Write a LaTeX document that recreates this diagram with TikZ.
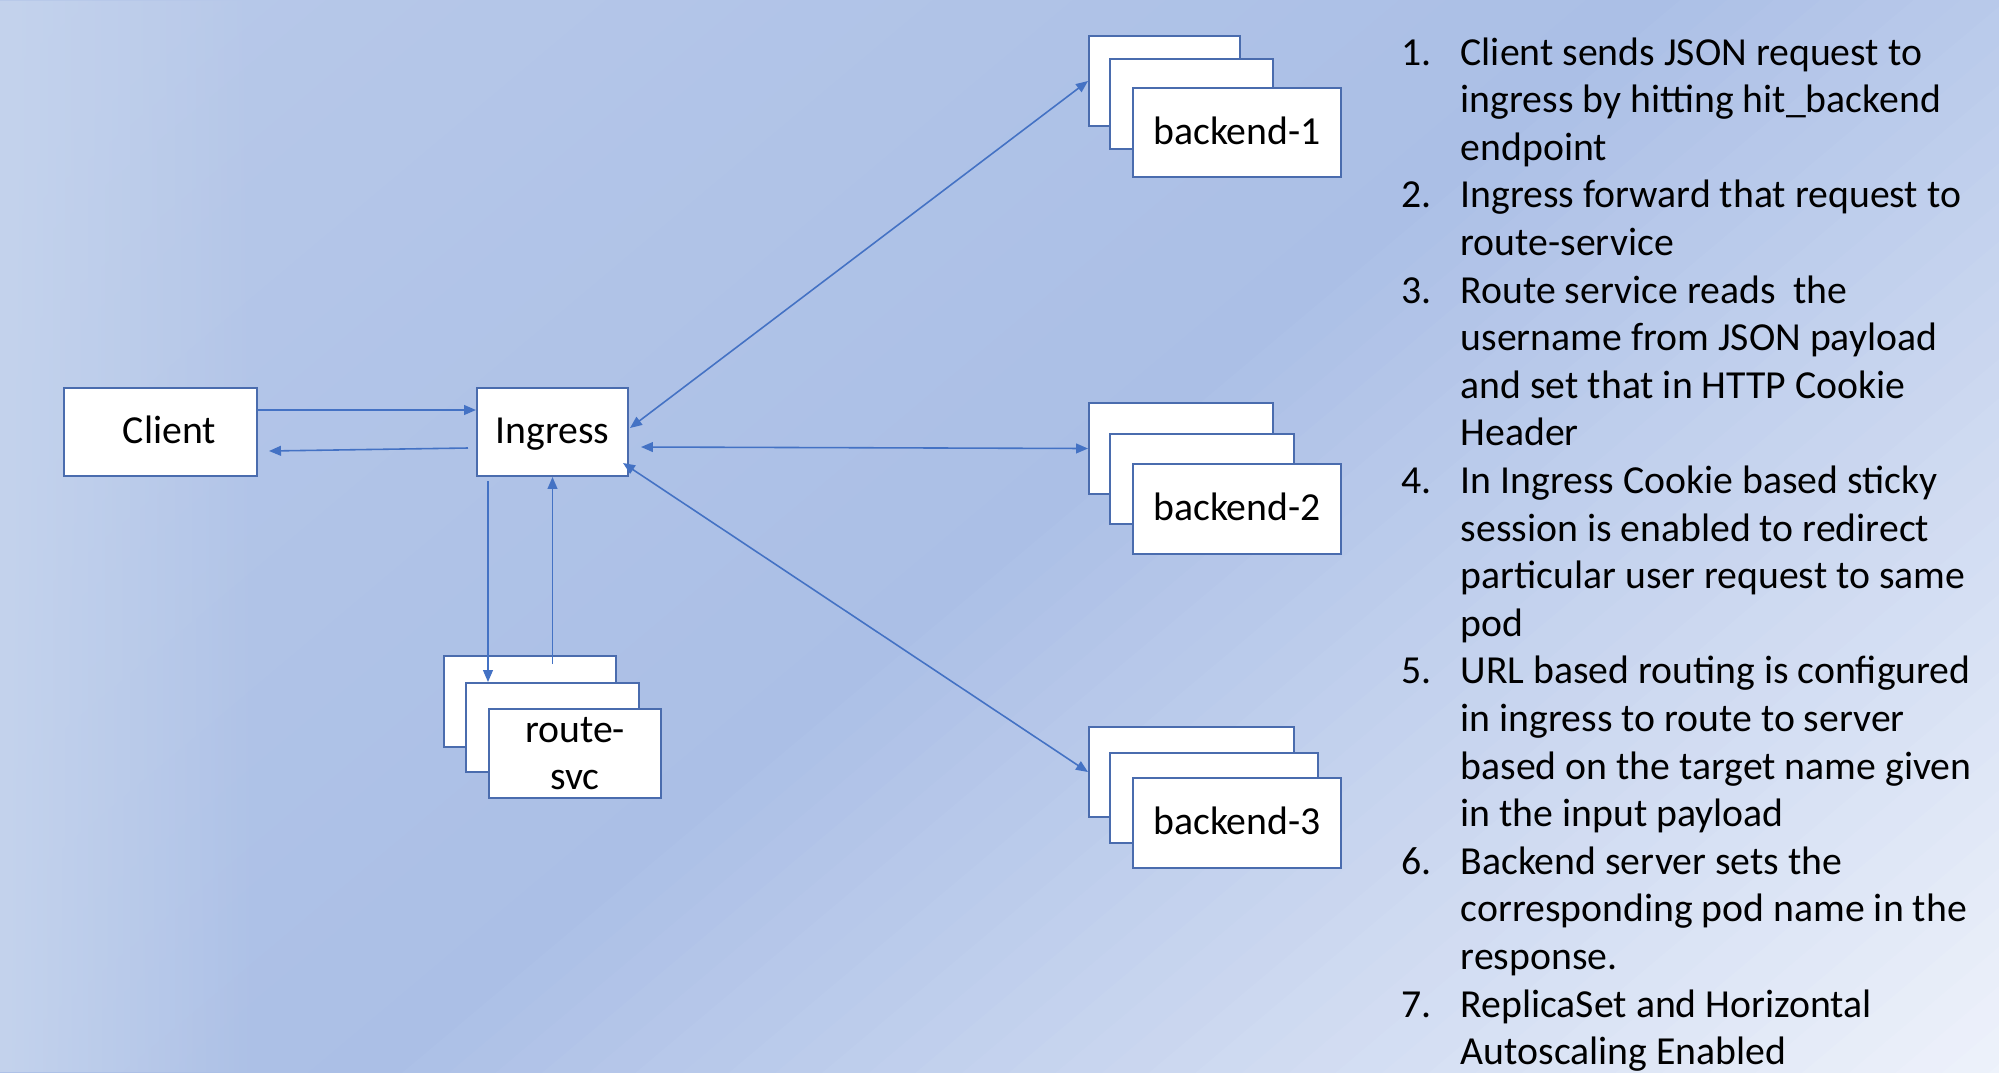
\documentclass[tikz,border=0pt]{standalone}
\usepackage{fontspec}
\setmainfont{Carlito}
\usetikzlibrary{arrows.meta, calc, fadings}

\definecolor{bgA}{HTML}{B8C9E9}
\definecolor{bgB}{HTML}{ABBFE6}
\definecolor{bgC}{HTML}{EFF3FB}
\definecolor{bgedge}{HTML}{C4D3ED}
\definecolor{boxline}{HTML}{4A6CAE}
\definecolor{arrowblue}{HTML}{4472C4}

\tikzfading[name=edgefade, left color=transparent!0, right color=transparent!100]

\begin{document}
\begin{tikzpicture}[
    x=0.01cm, y=-0.01cm,
    every node/.style={font=\fontsize{11.3pt}{13.5pt}\selectfont},
    box/.style={draw=boxline, line width=0.55pt, fill=white, inner sep=0pt, align=center},
    oneline/.style={text height=8.8pt, text depth=2pt},
    flow/.style={-{Triangle[length=3.4pt, width=2.8pt]}, draw=arrowblue, line width=0.45pt},
    both/.style={{Triangle[length=3.4pt, width=2.8pt]}-{Triangle[length=3.4pt, width=2.8pt]}, draw=arrowblue, line width=0.45pt},
    listline/.style={anchor=base west, inner sep=0pt}
]
\useasboundingbox (0,0) rectangle (1999,1072);

% Background
\begin{scope}
\clip (0,0) rectangle (1999,1072);
\foreach \s in {0,30,...,1020} {
    \pgfmathsetmacro\f{\s/10.3}
    \fill[bgB!\f!bgA] ({\s*0.643-2500*0.766},{\s*0.766+2500*0.643}) -- ({\s*0.643+2500*0.766},{\s*0.766-2500*0.643})
        -- ({(\s+31)*0.643+2500*0.766},{(\s+31)*0.766-2500*0.643}) -- ({(\s+31)*0.643-2500*0.766},{(\s+31)*0.766+2500*0.643}) -- cycle;
}
\foreach \s in {1050,1080,...,2190} {
    \pgfmathsetmacro\f{min(100,(\s-1050)/10.6)}
    \fill[bgC!\f!bgB] ({\s*0.643-2500*0.766},{\s*0.766+2500*0.643}) -- ({\s*0.643+2500*0.766},{\s*0.766-2500*0.643})
        -- ({(\s+31)*0.643+2500*0.766},{(\s+31)*0.766-2500*0.643}) -- ({(\s+31)*0.643-2500*0.766},{(\s+31)*0.766+2500*0.643}) -- cycle;
}
\fill[bgedge, path fading=edgefade] (0,0) rectangle (260,1072);
\end{scope}

% Nodes
\node[box, oneline, minimum width=1.93cm, minimum height=0.88cm] (client) at (160.5,432) {\hspace*{0.18cm}Client};
\node[box, oneline, minimum width=1.51cm, minimum height=0.88cm] (ingress) at (552.5,432) {Ingress};

\node[box, minimum width=1.72cm, minimum height=0.91cm] (rsvcA) at (530,701.5) {};
\node[box, minimum width=1.73cm, minimum height=0.89cm] (rsvcB) at (552.5,727.5) {};
\node[box, minimum width=1.72cm, minimum height=0.89cm] (rsvc) at (575,753.5) {route-\\svc};

\node[box, minimum width=1.51cm, minimum height=0.90cm] (beA1) at (1164.5,81) {};
\node[box, minimum width=1.63cm, minimum height=0.90cm] (beB1) at (1191.5,104) {};
\node[box, oneline, minimum width=2.08cm, minimum height=0.89cm] (be1) at (1237,132.5) {backend-1};

\node[box, minimum width=1.84cm, minimum height=0.91cm] (beA2) at (1181,448.5) {};
\node[box, minimum width=1.84cm, minimum height=0.90cm] (beB2) at (1202,479) {};
\node[box, oneline, minimum width=2.08cm, minimum height=0.90cm] (be2) at (1237,509) {backend-2};

\node[box, minimum width=2.05cm, minimum height=0.90cm] (beA3) at (1191.5,772) {};
\node[box, minimum width=2.08cm, minimum height=0.90cm] (beB3) at (1214,798) {};
\node[box, oneline, minimum width=2.08cm, minimum height=0.90cm] (be3) at (1237,823) {backend-3};

% Edges
\draw[flow] ($(client.east)+(0,-22)$) -- ($(ingress.west)+(0,-22)$);
\draw[flow] ($(ingress.west)+(-8,16)$) -- ($(client.east)+(11,19)$);
\draw[flow] ($(ingress.south west)+(12,4)$) -- ($(ingress.south west |- rsvcB.north)+(12,0)$);
\draw[flow] ($(ingress.south |- rsvcA.north)+(0,9)$) -- (ingress.south);
\draw[both] ($(ingress.east)+(1,-4)$) -- (beA1.west);
\draw[both] ($(ingress.east)+(12,15)$) -- (beA2.west);
\draw[both] ($(ingress.east)+(-6,31)$) -- (beA3.west);

% Steps
\foreach \n/\k in {1/0,2/3,3/5,4/9,5/13,6/17,7/20}
    \node[listline] (num\n) at (1401,{65+47.6*\k}) {\n.};
\foreach \txt [count=\k from 0] in {
    Client sends JSON request to, ingress by hitting hit\_backend, endpoint,
    Ingress forward that request to, route-service,
    Route service reads\ \ the, username from JSON payload, and set that in HTTP Cookie, Header,
    In Ingress Cookie based sticky, session is enabled to redirect, particular user request to same, pod,
    URL based routing is configured, in ingress to route to server, based on the target name given, in the input payload,
    Backend server sets the, corresponding pod name in the, response.,
    ReplicaSet and Horizontal, Autoscaling Enabled}
    \node[listline] (line\k) at (1460,{65+47.6*\k}) {\txt};

\end{tikzpicture}
\end{document}
